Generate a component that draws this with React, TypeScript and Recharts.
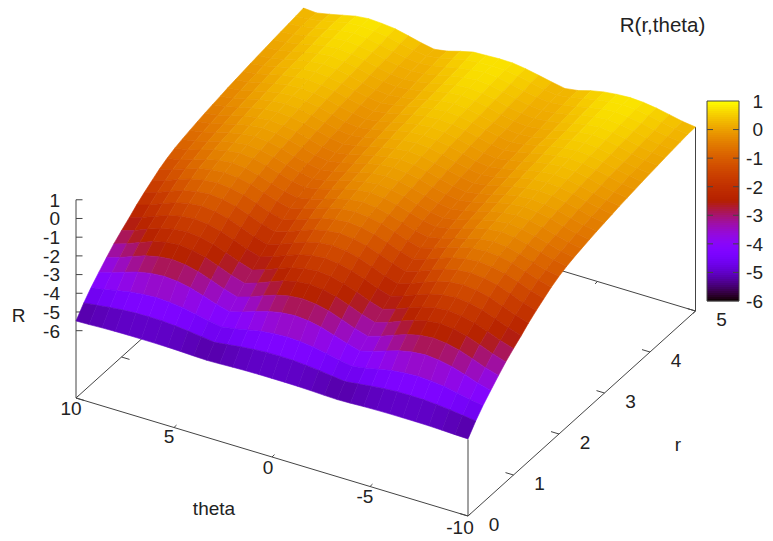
import React from "react";
import { ScatterChart, Scatter, XAxis, YAxis } from "recharts";

const W = 773;
const H = 541;

const thetaValues = [10, 9.33, 8.67, 8, 7.33, 6.67, 6, 5.33, 4.67, 4, 3.33, 2.67, 2, 1.33, 0.67, 0, -0.67, -1.33, -2, -2.67, -3.33, -4, -4.67, -5.33, -6, -6.67, -7.33, -8, -8.67, -9.33, -10];
const rValues = [0, 0.17, 0.33, 0.5, 0.67, 0.83, 1, 1.17, 1.33, 1.5, 1.67, 1.83, 2, 2.17, 2.33, 2.5, 2.67, 2.83, 3, 3.17, 3.33, 3.5, 3.67, 3.83, 4, 4.17, 4.33, 4.5, 4.67, 4.83, 5];

const R00 = [-5.48,-5.46,-5.43,-5.41,-5.4,-5.4,-5.4,-5.41,-5.43,-5.46,-5.48,-5.46,-5.43,-5.41,-5.4,-5.4,-5.4,-5.41,-5.43,-5.46,-5.48,-5.46,-5.43,-5.41,-5.4,-5.4,-5.4,-5.41,-5.43,-5.46,-5.48];
const R01 = [-4.89,-4.8,-4.71,-4.64,-4.59,-4.58,-4.59,-4.64,-4.71,-4.8,-4.89,-4.8,-4.71,-4.64,-4.59,-4.58,-4.59,-4.64,-4.71,-4.8,-4.89,-4.8,-4.71,-4.64,-4.59,-4.58,-4.59,-4.64,-4.71,-4.8,-4.89];
const R02 = [-4.42,-4.31,-4.16,-4.02,-3.94,-3.9,-3.94,-4.02,-4.16,-4.31,-4.42,-4.31,-4.16,-4.02,-3.94,-3.9,-3.94,-4.02,-4.16,-4.31,-4.42,-4.31,-4.16,-4.02,-3.94,-3.9,-3.94,-4.02,-4.16,-4.31,-4.42];
const R03 = [-3.98,-3.79,-3.55,-3.33,-3.19,-3.13,-3.19,-3.33,-3.55,-3.79,-3.98,-3.79,-3.55,-3.33,-3.19,-3.13,-3.19,-3.33,-3.55,-3.79,-3.98,-3.79,-3.55,-3.33,-3.19,-3.13,-3.19,-3.33,-3.55,-3.79,-3.98];
const R04 = [-3.56,-3.35,-3.08,-2.83,-2.67,-2.6,-2.67,-2.83,-3.08,-3.35,-3.56,-3.35,-3.08,-2.83,-2.67,-2.6,-2.67,-2.83,-3.08,-3.35,-3.56,-3.35,-3.08,-2.83,-2.67,-2.6,-2.67,-2.83,-3.08,-3.35,-3.56];
const R05 = [-3.18,-2.96,-2.68,-2.42,-2.25,-2.18,-2.25,-2.42,-2.68,-2.96,-3.18,-2.96,-2.68,-2.42,-2.25,-2.18,-2.25,-2.42,-2.68,-2.96,-3.18,-2.96,-2.68,-2.42,-2.25,-2.18,-2.25,-2.42,-2.68,-2.96,-3.18];
const R06 = [-2.84,-2.62,-2.34,-2.09,-1.92,-1.85,-1.92,-2.09,-2.34,-2.62,-2.84,-2.62,-2.34,-2.09,-1.92,-1.85,-1.92,-2.09,-2.34,-2.62,-2.84,-2.62,-2.34,-2.09,-1.92,-1.85,-1.92,-2.09,-2.34,-2.62,-2.84];
const R07 = [-2.52,-2.3,-2.02,-1.77,-1.6,-1.53,-1.6,-1.77,-2.02,-2.3,-2.52,-2.3,-2.02,-1.77,-1.6,-1.53,-1.6,-1.77,-2.02,-2.3,-2.52,-2.3,-2.02,-1.77,-1.6,-1.53,-1.6,-1.77,-2.02,-2.3,-2.52];
const R08 = [-2.2,-1.98,-1.7,-1.44,-1.27,-1.2,-1.27,-1.44,-1.7,-1.98,-2.2,-1.98,-1.7,-1.44,-1.27,-1.2,-1.27,-1.44,-1.7,-1.98,-2.2,-1.98,-1.7,-1.44,-1.27,-1.2,-1.27,-1.44,-1.7,-1.98,-2.2];
const R09 = [-1.9,-1.69,-1.41,-1.16,-1,-0.93,-1,-1.16,-1.41,-1.69,-1.9,-1.69,-1.41,-1.16,-1,-0.93,-1,-1.16,-1.41,-1.69,-1.9,-1.69,-1.41,-1.16,-1,-0.93,-1,-1.16,-1.41,-1.69,-1.9];
const R10 = [-1.63,-1.43,-1.16,-0.92,-0.77,-0.7,-0.77,-0.92,-1.16,-1.43,-1.63,-1.43,-1.16,-0.92,-0.77,-0.7,-0.77,-0.92,-1.16,-1.43,-1.63,-1.43,-1.16,-0.92,-0.77,-0.7,-0.77,-0.92,-1.16,-1.43,-1.63];
const R11 = [-1.38,-1.19,-0.94,-0.71,-0.56,-0.5,-0.56,-0.71,-0.94,-1.19,-1.38,-1.19,-0.94,-0.71,-0.56,-0.5,-0.56,-0.71,-0.94,-1.19,-1.38,-1.19,-0.94,-0.71,-0.56,-0.5,-0.56,-0.71,-0.94,-1.19,-1.38];
const R12 = [-1.17,-1.04,-0.83,-0.6,-0.43,-0.35,-0.43,-0.6,-0.83,-1.04,-1.17,-1.04,-0.83,-0.6,-0.43,-0.35,-0.43,-0.6,-0.83,-1.04,-1.17,-1.04,-0.83,-0.6,-0.43,-0.35,-0.43,-0.6,-0.83,-1.04,-1.17];
const R13 = [-1,-0.87,-0.67,-0.45,-0.29,-0.21,-0.29,-0.45,-0.67,-0.87,-1,-0.87,-0.67,-0.45,-0.29,-0.21,-0.29,-0.45,-0.67,-0.87,-1,-0.87,-0.67,-0.45,-0.29,-0.21,-0.29,-0.45,-0.67,-0.87,-1];
const R14 = [-0.88,-0.76,-0.56,-0.35,-0.2,-0.12,-0.2,-0.35,-0.56,-0.76,-0.88,-0.76,-0.56,-0.35,-0.2,-0.12,-0.2,-0.35,-0.56,-0.76,-0.88,-0.76,-0.56,-0.35,-0.2,-0.12,-0.2,-0.35,-0.56,-0.76,-0.88];
const R15 = [-0.77,-0.65,-0.47,-0.27,-0.12,-0.05,-0.12,-0.27,-0.47,-0.65,-0.77,-0.65,-0.47,-0.27,-0.12,-0.05,-0.12,-0.27,-0.47,-0.65,-0.77,-0.65,-0.47,-0.27,-0.12,-0.05,-0.12,-0.27,-0.47,-0.65,-0.77];
const R16 = [-0.67,-0.56,-0.38,-0.18,-0.04,0.03,-0.04,-0.18,-0.38,-0.56,-0.67,-0.56,-0.38,-0.18,-0.04,0.03,-0.04,-0.18,-0.38,-0.56,-0.67,-0.56,-0.38,-0.18,-0.04,0.03,-0.04,-0.18,-0.38,-0.56,-0.67];
const R17 = [-0.58,-0.47,-0.29,-0.1,0.03,0.1,0.03,-0.1,-0.29,-0.47,-0.58,-0.47,-0.29,-0.1,0.03,0.1,0.03,-0.1,-0.29,-0.47,-0.58,-0.47,-0.29,-0.1,0.03,0.1,0.03,-0.1,-0.29,-0.47,-0.58];
const R18 = [-0.49,-0.38,-0.21,-0.03,0.1,0.17,0.1,-0.03,-0.21,-0.38,-0.49,-0.38,-0.21,-0.03,0.1,0.17,0.1,-0.03,-0.21,-0.38,-0.49,-0.38,-0.21,-0.03,0.1,0.17,0.1,-0.03,-0.21,-0.38,-0.49];
const R19 = [-0.41,-0.31,-0.14,0.05,0.18,0.24,0.18,0.05,-0.14,-0.31,-0.41,-0.31,-0.14,0.05,0.18,0.24,0.18,0.05,-0.14,-0.31,-0.41,-0.31,-0.14,0.05,0.18,0.24,0.18,0.05,-0.14,-0.31,-0.41];
const R20 = [-0.33,-0.23,-0.06,0.12,0.25,0.31,0.25,0.12,-0.06,-0.23,-0.33,-0.23,-0.06,0.12,0.25,0.31,0.25,0.12,-0.06,-0.23,-0.33,-0.23,-0.06,0.12,0.25,0.31,0.25,0.12,-0.06,-0.23,-0.33];
const R21 = [-0.26,-0.16,0,0.17,0.3,0.36,0.3,0.17,0,-0.16,-0.26,-0.16,0,0.17,0.3,0.36,0.3,0.17,0,-0.16,-0.26,-0.16,0,0.17,0.3,0.36,0.3,0.17,0,-0.16,-0.26];
const R22 = [-0.19,-0.09,0.07,0.24,0.36,0.42,0.36,0.24,0.07,-0.09,-0.19,-0.09,0.07,0.24,0.36,0.42,0.36,0.24,0.07,-0.09,-0.19,-0.09,0.07,0.24,0.36,0.42,0.36,0.24,0.07,-0.09,-0.19];
const R23 = [-0.12,-0.02,0.13,0.3,0.42,0.48,0.42,0.3,0.13,-0.02,-0.12,-0.02,0.13,0.3,0.42,0.48,0.42,0.3,0.13,-0.02,-0.12,-0.02,0.13,0.3,0.42,0.48,0.42,0.3,0.13,-0.02,-0.12];
const R24 = [-0.06,0.01,0.15,0.33,0.47,0.54,0.47,0.33,0.15,0.01,-0.06,0.01,0.15,0.33,0.47,0.54,0.47,0.33,0.15,0.01,-0.06,0.01,0.15,0.33,0.47,0.54,0.47,0.33,0.15,0.01,-0.06];
const R25 = [0,0.07,0.21,0.38,0.52,0.59,0.52,0.38,0.21,0.07,0,0.07,0.21,0.38,0.52,0.59,0.52,0.38,0.21,0.07,0,0.07,0.21,0.38,0.52,0.59,0.52,0.38,0.21,0.07,0];
const R26 = [0.06,0.13,0.26,0.44,0.57,0.64,0.57,0.44,0.26,0.13,0.06,0.13,0.26,0.44,0.57,0.64,0.57,0.44,0.26,0.13,0.06,0.13,0.26,0.44,0.57,0.64,0.57,0.44,0.26,0.13,0.06];
const R27 = [0.12,0.19,0.32,0.49,0.62,0.69,0.62,0.49,0.32,0.19,0.12,0.19,0.32,0.49,0.62,0.69,0.62,0.49,0.32,0.19,0.12,0.19,0.32,0.49,0.62,0.69,0.62,0.49,0.32,0.19,0.12];
const R28 = [0.17,0.24,0.37,0.53,0.66,0.73,0.66,0.53,0.37,0.24,0.17,0.24,0.37,0.53,0.66,0.73,0.66,0.53,0.37,0.24,0.17,0.24,0.37,0.53,0.66,0.73,0.66,0.53,0.37,0.24,0.17];
const R29 = [0.23,0.27,0.4,0.56,0.7,0.76,0.7,0.6,0.44,0.3,0.2,0.3,0.46,0.62,0.69,0.72,0.7,0.6,0.45,0.31,0.2,0.3,0.46,0.6,0.7,0.75,0.7,0.6,0.45,0.31,0.22];
const R30 = [0.29,0.24,0.38,0.54,0.7,0.77,0.73,0.66,0.5,0.33,0.19,0.3,0.5,0.67,0.7,0.73,0.72,0.62,0.48,0.33,0.2,0.3,0.5,0.64,0.72,0.76,0.72,0.62,0.48,0.33,0.24];
const surface = [R00,R01,R02,R03,R04,R05,R06,R07,R08,R09,R10,R11,R12,R13,R14,R15,R16,R17,R18,R19,R20,R21,R22,R23,R24,R25,R26,R27,R28,R29,R30];

const zTicks = [1, 0, -1, -2, -3, -4, -5, -6];
const thetaTicks = [10, 5, 0, -5, -10];
const rTicks = [0, 1, 2, 3, 4, 5];
const cbTicks = [1, 0, -1, -2, -3, -4, -5, -6];

const Z_FLOOR = -9.6;
const sx = (t: number, r: number) => 76 + (10 - t) * 19.6 + r * 45.5;
const sy = (t: number, r: number, z: number) => 398 + (10 - t) * 5.9 - r * 41 - (z - Z_FLOOR) * 18.7;

const palette = (v: number) => {
  const g = Math.min(1, Math.max(0, (v + 6) / 7));
  const c = (n: number) => Math.round(Math.min(1, Math.max(0, n)) * 255);
  return `rgb(${c(Math.sqrt(g))},${c(g * g * g)},${c(Math.sin(2 * Math.PI * g))})`;
};

// surface facets, far rows first
const facets: any[] = [];
for (let i = rValues.length - 2; i >= 0; i--) {
  for (let j = 0; j < thetaValues.length - 1; j++) {
    const corners: [number, number][] = [[i, j], [i, j + 1], [i + 1, j + 1], [i + 1, j]];
    const xy = corners.map(([a, b]) => [sx(thetaValues[b], rValues[a]), sy(thetaValues[b], rValues[a], surface[a][b])]);
    const px = xy.reduce((s, p) => s + p[0], 0) / 4;
    const py = xy.reduce((s, p) => s + p[1], 0) / 4;
    const mean = corners.reduce((s, [a, b]) => s + surface[a][b], 0) / 4;
    facets.push({ px, py, rel: xy.map((p) => [p[0] - px, p[1] - py]), fill: palette(mean) });
  }
}

// box frame and ticks
const seg = (x1: number, y1: number, x2: number, y2: number) => ({ px: x1, py: y1, dx: x2 - x1, dy: y2 - y1 });
const floor = (t: number, r: number) => [sx(t, r), sy(t, r, Z_FLOOR)] as const;
const frame: any[] = [];
const [ax, ay] = floor(10, 0);
const [bx, by] = floor(-10, 0);
const [cx0, cy0] = floor(-10, 5);
const [dx0, dy0] = floor(10, 5);
frame.push(seg(ax, ay, bx, by), seg(bx, by, cx0, cy0), seg(cx0, cy0, dx0, dy0), seg(dx0, dy0, ax, ay));
frame.push(seg(ax, ay, ax, sy(10, 0, 1)));
frame.push(seg(bx, by, bx, sy(-10, 0, -5.5)));
frame.push(seg(cx0, cy0, cx0, sy(-10, 5, 0.24)));
frame.push(seg(dx0, dy0, dx0, sy(10, 5, 0.29)));
zTicks.forEach((z) => frame.push(seg(ax, sy(10, 0, z), ax + 6.5, sy(10, 0, z))));
thetaTicks.forEach((t) => {
  const [x, y] = floor(t, 0);
  frame.push(seg(x, y, x + 2.5, y - 2.4));
  const [x2, y2] = floor(t, 5);
  frame.push(seg(x2, y2, x2 - 2.5, y2 + 2.4));
});
rTicks.forEach((r) => {
  const [x, y] = floor(-10, r);
  frame.push(seg(x, y, x - 8, y - 2.4));
  const [x2, y2] = floor(10, r);
  frame.push(seg(x2, y2, x2 + 8, y2 + 2.4));
});

// colour box
const CB_L = 707;
const CB_R = 739;
const cbY = (v: number) => 301 - (v + 6) * (200 / 7);
const cbStrips: any[] = [];
for (let y = 101; y < 301; y += 2) {
  const v = -6 + ((301 - y - 1) * 7) / 200;
  cbStrips.push({ px: CB_L, py: y, fill: palette(v) });
}
const cbFrame: any[] = [
  seg(CB_L, 101, CB_R, 101), seg(CB_R, 101, CB_R, 301), seg(CB_R, 301, CB_L, 301), seg(CB_L, 301, CB_L, 101),
];
cbTicks.forEach((v) => {
  if (v === 1 || v === -6) return;
  cbFrame.push(seg(CB_L, cbY(v), CB_L + 6, cbY(v)), seg(CB_R, cbY(v), CB_R - 6, cbY(v)));
});

// texts
const labels: any[] = [
  { px: 662.5, py: 25, text: "R(r,theta)", anchor: "middle", size: 20.5 },
  { px: 18.5, py: 315, text: "R", anchor: "middle", size: 19 },
  { px: 214, py: 508, text: "theta", anchor: "middle", size: 19 },
  { px: 678, py: 444, text: "r", anchor: "middle", size: 19 },
];
zTicks.forEach((z) => labels.push({ px: 60, py: sy(10, 0, z), text: String(z), anchor: "end", size: 19 }));
const thetaOff: Record<string, [number, number]> = { "10": [-5, 10], "5": [-5, 9], "0": [-4, 10], "-5": [-5, 10], "-10": [-8, 11] };
thetaTicks.forEach((t) => {
  const [x, y] = floor(t, 0);
  const o = thetaOff[String(t)];
  labels.push({ px: x + o[0], py: y + o[1], text: String(t), anchor: "middle", size: 19 });
});
rTicks.forEach((r) => {
  const [x, y] = floor(-10, r);
  labels.push({ px: x + 26, py: y + 8.5, text: String(r), anchor: "middle", size: 19 });
});
cbTicks.forEach((v) => labels.push({ px: 763, py: cbY(v), text: String(v), anchor: "end", size: 19 }));

const FacetShape = (p: any) => (
  <polygon
    points={p.payload.rel.map((q: number[]) => `${p.cx + q[0]},${p.cy + q[1]}`).join(" ")}
    fill={p.payload.fill}
    stroke={p.payload.fill}
    strokeWidth={0.6}
  />
);
const SegShape = (p: any) => (
  <line x1={p.cx} y1={p.cy} x2={p.cx + p.payload.dx} y2={p.cy + p.payload.dy} stroke="#444" strokeWidth={1} />
);
const StripShape = (p: any) => <rect x={p.cx} y={p.cy} width={CB_R - CB_L} height={2.3} fill={p.payload.fill} />;
const TextShape = (p: any) => (
  <text
    x={p.cx}
    y={p.cy}
    dy="0.36em"
    textAnchor={p.payload.anchor}
    fontFamily="'Liberation Sans', Arial, sans-serif"
    fontSize={p.payload.size}
    fill="#222"
  >
    {p.payload.text}
  </text>
);

export default function App() {
  return (
    <div style={{ position: "absolute", left: 0, top: 0, width: W, height: H, background: "#fff" }}>
      <ScatterChart width={W} height={H} margin={{ top: 0, right: 0, bottom: 0, left: 0 }}>
        <XAxis type="number" dataKey="px" domain={[0, W]} hide allowDataOverflow />
        <YAxis type="number" dataKey="py" domain={[0, H]} reversed hide allowDataOverflow />
        <Scatter data={frame} shape={SegShape} isAnimationActive={false} />
        <Scatter data={facets} shape={FacetShape} isAnimationActive={false} />
        <Scatter data={cbStrips} shape={StripShape} isAnimationActive={false} />
        <Scatter data={cbFrame} shape={SegShape} isAnimationActive={false} />
        <Scatter data={labels} shape={TextShape} isAnimationActive={false} />
      </ScatterChart>
    </div>
  );
}
